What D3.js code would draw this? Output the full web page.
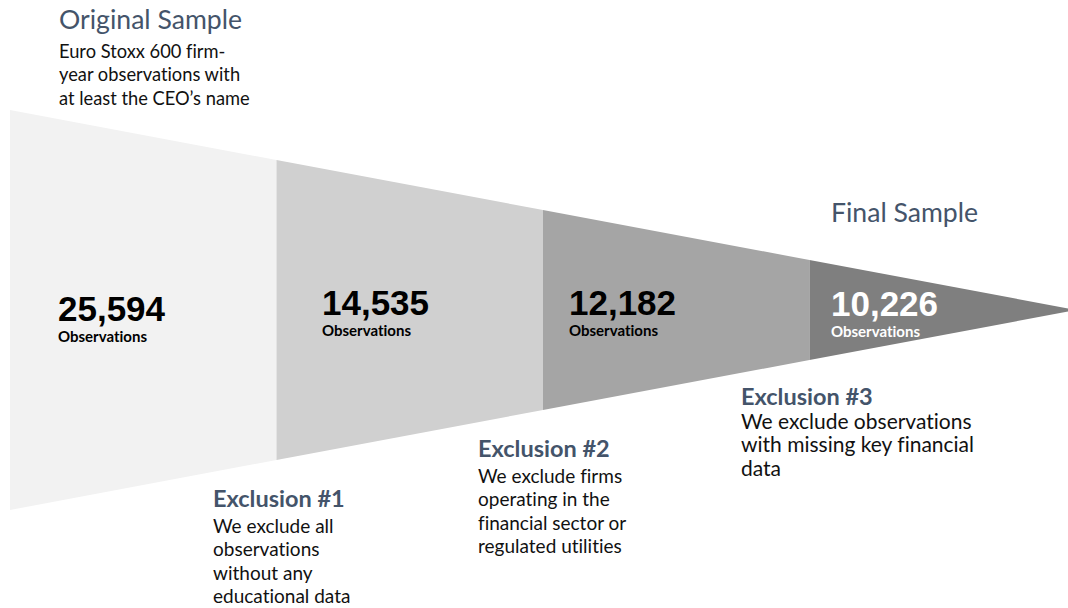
<!DOCTYPE html>
<html><head><meta charset="utf-8">
<script src="https://cdn.jsdelivr.net/npm/d3@7/dist/d3.min.js"></script>
<style>html,body{margin:0;padding:0;background:#fff;} text{font-variant-ligatures:none;font-feature-settings:"liga" 0;}</style>
</head><body>
<svg id="c" width="1068" height="608"></svg>
<script>
const stages = ["Original Sample", "Exclusion #1", "Exclusion #2", "Exclusion #3"];
const counts = [25594, 14535, 12182, 10226];
const unitLabel = "Observations";
const descriptions = [
  ["Euro Stoxx 600 firm-", "year observations with", "at least the CEO\u2019s name"],
  ["We exclude all", "observations", "without any", "educational data"],
  ["We exclude firms", "operating in the", "financial sector or", "regulated utilities"],
  ["We exclude observations", "with missing key financial", "data"]
];
const finalLabel = "Final Sample";
const fills = ["#f2f2f2", "#d0d0d0", "#a5a5a5", "#7f7f7f"];

const svg = d3.select("#c");
const x = d3.scaleLinear().domain([0, stages.length]).range([10, 1076]);
const half = d3.scaleLinear().domain([0, stages.length]).range([200, 0]);
const cy = 310;
const fmt = d3.format(",");

const seg = svg.append("g");
stages.forEach((s, i) => {
  const pts = [[x(i), cy - half(i)], [x(i + 1), cy - half(i + 1)], [x(i + 1), cy + half(i + 1)], [x(i), cy + half(i)]];
  seg.append("path").attr("d", d3.line()(pts) + "Z").attr("fill", fills[i]);
});

const numFont = "'Liberation Sans', Arial, sans-serif";
const txtFont = "Lato, 'Open Sans', sans-serif";
const numX = [58, 322, 569, 831];
const numY = [321, 315, 315, 316];
counts.forEach((c, i) => {
  const col = i === 3 ? "#ffffff" : "#000000";
  svg.append("text").attr("x", numX[i]).attr("y", numY[i])
    .attr("font-family", numFont).attr("font-weight", "bold").attr("font-size", 35)
    .attr("fill", col).text(fmt(c));
  svg.append("text").attr("x", numX[i]).attr("y", numY[i] + 21)
    .attr("font-family", txtFont).attr("font-weight", "bold").attr("font-size", 15)
    .attr("fill", col).text(unitLabel);
});

const headColor = "#44546a";
svg.append("text").attr("x", 59).attr("y", 29).attr("font-family", txtFont)
  .attr("font-size", 26.6).attr("fill", headColor).text(stages[0]);
const blocks = [
  {x: 59, hy: 29, by: 58, fs: 18.3},
  {x: 213, hy: 507, by: 533, fs: 19},
  {x: 478, hy: 457, by: 483, fs: 19},
  {x: 741, hy: 405, by: 429, fs: 21}
];
blocks.forEach((b, i) => {
  if (i > 0) {
    svg.append("text").attr("x", b.x).attr("y", b.hy).attr("font-family", txtFont)
      .attr("font-weight", "bold").attr("font-size", 23.5).attr("fill", headColor).text(stages[i]);
  }
  descriptions[i].forEach((line, j) => {
    svg.append("text").attr("x", b.x).attr("y", b.by + j * 23.3).attr("font-family", txtFont)
      .attr("font-size", b.fs).attr("fill", "#111").text(line);
  });
});
svg.append("text").attr("x", 831).attr("y", 222).attr("font-family", txtFont)
  .attr("font-size", 26.6).attr("fill", headColor).text(finalLabel);
</script>
</body></html>
